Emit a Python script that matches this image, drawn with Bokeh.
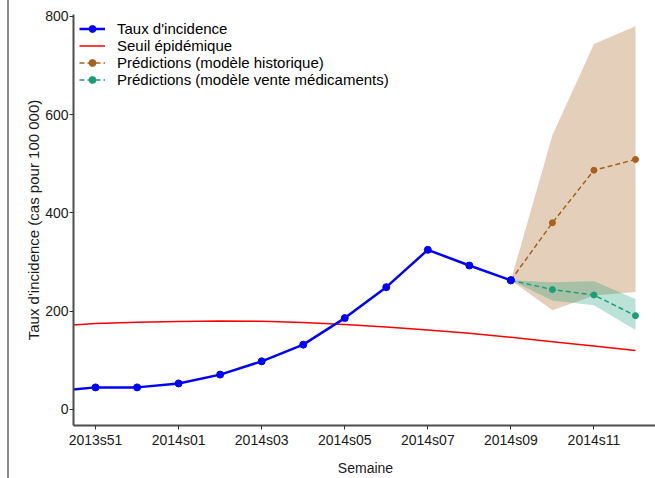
from bokeh.plotting import figure
from bokeh.models import Range1d, FixedTicker, Legend, LegendItem
from bokeh.embed import file_html
from bokeh.resources import INLINE

# ---- data ----
weeks = ["2013s50", "2013s51", "2013s52", "2014s01", "2014s02", "2014s03", "2014s04",
         "2014s05", "2014s06", "2014s07", "2014s08", "2014s09", "2014s10", "2014s11", "2014s12"]
obs_weeks = weeks[:12]
incidence = [37, 45, 45, 53, 71, 98, 132, 186, 249, 325, 293, 263]
threshold = [169, 175, 177.5, 179, 180, 179.5, 177, 173, 168, 162, 155, 147, 138, 129, 120]
pred_weeks = ["2014s09", "2014s10", "2014s11", "2014s12"]
hist_pred = [263, 380, 487, 509]
hist_low = [263, 202, 232, 239]
hist_high = [263, 558, 744, 780]
med_pred = [263, 244, 233, 191]
med_low = [263, 222, 212, 162]
med_high = [263, 259, 261, 225]
x_tick_labels = ["2013s51", "2014s01", "2014s03", "2014s05", "2014s07", "2014s09", "2014s11"]
y_ticks = [0, 200, 400, 600, 800]

pos = {w: i for i, w in enumerate(weeks)}
x_obs = [pos[w] for w in obs_weeks]
x_all = [pos[w] for w in weeks]
x_pred = [pos[w] for w in pred_weeks]

FONT = "Liberation Sans"
BLUE = "#0000ff"
RED = "#ff0000"
BROWN = "#a6611a"
GREEN = "#1b9e77"

p = figure(width=646, height=478, output_backend="svg", toolbar_location=None,
           x_range=Range1d(0.469, 14.53), y_range=Range1d(-32.6, 804),
           min_border_left=64, min_border_right=0, min_border_top=14, min_border_bottom=53)
p.outline_line_color = None
p.xgrid.visible = False
p.ygrid.visible = False
p.styles = {"box-sizing": "content-box", "margin-left": "7px",
            "border-left": "2px solid #8c8c8c"}

# bands
p.varea(x=x_pred, y1=hist_low, y2=hist_high, fill_color=BROWN, fill_alpha=0.3)
p.varea(x=x_pred, y1=med_low, y2=med_high, fill_color=GREEN, fill_alpha=0.3)

r_red = p.line(x_all, threshold, line_color=RED, line_width=1.5)

r_bl = p.line(x_obs, incidence, line_color=BLUE, line_width=2.5)
r_bs = p.scatter(x_obs, incidence, size=7, fill_color=BLUE, line_color=BLUE)

r_hl = p.line(x_pred, hist_pred, line_color=BROWN, line_width=1.5, line_dash="5 3")
r_hs = p.scatter(x_pred[1:], hist_pred[1:], size=6, fill_color=BROWN, line_color=BROWN)

r_ml = p.line(x_pred, med_pred, line_color=GREEN, line_width=1.5, line_dash="5 3")
r_ms = p.scatter(x_pred[1:], med_pred[1:], size=6, fill_color=GREEN, line_color=GREEN)

# redraw last observed point on top
p.scatter(x_obs[-1:], incidence[-1:], size=7, fill_color=BLUE, line_color=BLUE)

legend = Legend(items=[
    LegendItem(label="Taux d'incidence", renderers=[r_bl, r_bs]),
    LegendItem(label="Seuil épidémique", renderers=[r_red]),
    LegendItem(label="Prédictions (modèle historique)", renderers=[r_hl, r_hs]),
    LegendItem(label="Prédictions (modèle vente médicaments)", renderers=[r_ml, r_ms]),
], location="top_left")
legend.margin = 0
legend.padding = 6
legend.spacing = 0
legend.glyph_width = 26
legend.glyph_height = 17
legend.label_height = 17
legend.label_standoff = 12
legend.border_line_alpha = 0
legend.background_fill_alpha = 0
legend.label_text_font = FONT
legend.label_text_font_size = "15px"
legend.label_text_color = "#000000"
p.add_layout(legend)

for ax in (p.xaxis[0], p.yaxis[0]):
    ax.axis_line_color = "#4d4d4d"
    ax.axis_line_width = 2
    ax.major_tick_line_color = "#333333"
    ax.major_tick_line_width = 1
    ax.major_tick_out = 4
    ax.major_tick_in = 0
    ax.minor_tick_line_color = None
    ax.major_label_text_font = FONT
    ax.major_label_text_font_size = "14px"
    ax.major_label_text_color = "#1a1a1a"
    ax.axis_label_text_font = FONT
    ax.axis_label_text_font_style = "normal"
    ax.axis_label_text_color = "#1a1a1a"

p.xaxis[0].ticker = FixedTicker(ticks=[pos[w] for w in x_tick_labels])
p.xaxis[0].major_label_overrides = {pos[w]: w for w in x_tick_labels}
p.xaxis[0].axis_label = "Semaine"
p.xaxis[0].axis_label_text_font_size = "14px"
p.xaxis[0].major_label_standoff = 2
p.xaxis[0].axis_label_standoff = 9
p.yaxis[0].ticker = FixedTicker(ticks=y_ticks)
p.yaxis[0].axis_label = "Taux d'incidence (cas pour 100 000)"
p.yaxis[0].axis_label_text_font_size = "15px"
p.yaxis[0].major_label_standoff = 1
p.yaxis[0].axis_label_standoff = 0

open("out.html", "w").write(file_html(p, INLINE))
